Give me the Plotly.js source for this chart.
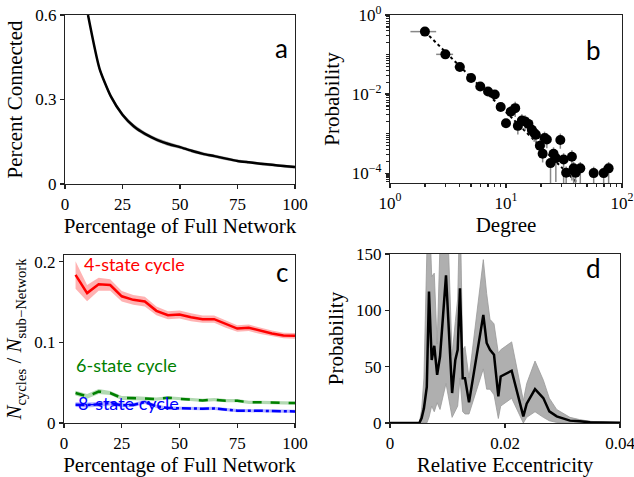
<!DOCTYPE html>
<html><head><meta charset="utf-8">
<script src="https://cdn.plot.ly/plotly-3.0.1.min.js"></script>
<style>body{margin:0;padding:0;background:#fff}#chart{width:634px;height:477px}</style>
</head><body><div id="chart"></div>
<script>
// Panel a
const pctA = [10, 15, 20, 25, 30, 35, 40, 45, 50, 55, 60, 65, 70, 75, 80, 85, 90, 95, 100];
const connA = [0.60, 0.41, 0.31, 0.246, 0.204, 0.177, 0.157, 0.142, 0.131, 0.118, 0.107, 0.099, 0.090, 0.082, 0.077, 0.072, 0.068, 0.064, 0.060];
const connErrA = [0.009, 0.009, 0.008, 0.008, 0.008, 0.007, 0.007, 0.007, 0.006, 0.006, 0.006, 0.006, 0.006, 0.005, 0.005, 0.005, 0.005, 0.005, 0.005];

// Panel b
const degX = [2, 3, 4, 5, 6, 7, 8, 9, 10, 11, 12, 12.65, 13.7, 14.6, 15.6, 16.7, 17.5, 18.1, 19.6, 21.5, 22.5, 20.7, 29.4, 25.7, 24.2, 26.9, 31.4, 37, 33, 38.3, 39.8, 43.7, 57, 69.5, 76.7];
const degY = [0.38, 0.101, 0.0486, 0.0256, 0.0155, 0.0116, 0.0097, 0.0047, 0.00183, 0.0036, 0.0044, 0.00157, 0.00214, 0.00202, 0.00176, 0.00125, 0.00103, 0.00093, 0.00049, 0.00077, 0.00071, 0.00031, 0.00069, 0.00031, 0.000179, 0.00024, 0.00022, 0.00026, 0.000102, 0.000132, 0.000102, 0.000132, 0.0001, 0.0001, 0.000132];
const degXerr = [0.5, 0.5, 0.4, 0.2, 0, 0, 0, 0, 0, 0, 0, 0, 0, 0, 0, 0, 0, 0, 0, 0, 0, 0, 0, 0, 0, 0, 0, 0, 0, 0, 0, 0, 0, 0, 0];
const fitX = [2, 41.3];
const fitY = [0.38, 0.000056];
const xMinorTicks = [2, 3, 4, 5, 6, 7, 8, 9, 20, 30, 40, 50, 60, 70, 80, 90];
const yMinorTicks = [2e-5, 3e-5, 4e-5, 5e-5, 6e-5, 7e-5, 8e-5, 9e-5, 2e-4, 3e-4, 4e-4, 5e-4, 6e-4, 7e-4, 8e-4, 9e-4, 1e-3, 2e-3, 3e-3, 4e-3, 5e-3, 6e-3, 7e-3, 8e-3, 9e-3, 2e-2, 3e-2, 4e-2, 5e-2, 6e-2, 7e-2, 8e-2, 9e-2, 0.1, 0.2, 0.3, 0.4, 0.5, 0.6, 0.7, 0.8, 0.9];

// Panel c
const pctC = [5, 10, 15, 20, 25, 30, 35, 40, 45, 50, 55, 60, 65, 70, 75, 80, 85, 90, 95, 100];
const cyc4 = [0.1835, 0.161, 0.172, 0.171, 0.157, 0.1526, 0.1505, 0.139, 0.1336, 0.1344, 0.131, 0.1287, 0.1287, 0.1225, 0.117, 0.118, 0.1142, 0.111, 0.1085, 0.108];
const cyc4Err = [0.017, 0.010, 0.008, 0.007, 0.0065, 0.006, 0.006, 0.0055, 0.005, 0.005, 0.005, 0.0045, 0.0045, 0.0045, 0.004, 0.004, 0.004, 0.0035, 0.0035, 0.0035];
const cyc6 = [0.0371, 0.033, 0.039, 0.0371, 0.031, 0.031, 0.0305, 0.0297, 0.0313, 0.030, 0.029, 0.028, 0.0289, 0.0276, 0.0276, 0.0256, 0.0256, 0.0256, 0.0252, 0.0247];
const cyc6Err = [0.003, 0.003, 0.003, 0.0025, 0.0025, 0.0025, 0.002, 0.002, 0.002, 0.002, 0.002, 0.002, 0.002, 0.002, 0.002, 0.002, 0.002, 0.002, 0.002, 0.002];
const cyc8 = [0.0227, 0.0223, 0.0231, 0.0247, 0.0219, 0.0223, 0.026, 0.0206, 0.0186, 0.018, 0.018, 0.0177, 0.018, 0.0165, 0.0153, 0.0153, 0.0153, 0.0153, 0.0144, 0.0144];
const cyc8Err = [0.003, 0.003, 0.003, 0.003, 0.0025, 0.0025, 0.0025, 0.002, 0.002, 0.002, 0.002, 0.002, 0.002, 0.002, 0.002, 0.002, 0.002, 0.002, 0.002, 0.002];

// Panel d
const eccX = [0, 0.003, 0.0051, 0.0055, 0.0059, 0.0064, 0.00678, 0.00725, 0.0077, 0.0082, 0.0087, 0.00974, 0.0108, 0.01136, 0.01177, 0.01217, 0.01264, 0.01304, 0.01374, 0.01623, 0.01681, 0.01739, 0.01809, 0.01884, 0.01925, 0.02116, 0.02319, 0.02377, 0.02522, 0.02667, 0.02771, 0.02899, 0.0313, 0.033, 0.0348, 0.037, 0.04];
const eccY = [0, 0, 0, 4.4, 13, 32, 116.6, 56, 68.5, 42.8, 59, 131, 26.6, 56, 65, 119.6, 39.8, 39.8, 18.3, 96, 71, 65, 60.5, 23.6, 41.3, 46.4, 5.9, 17.1, 30.1, 22.1, 10.3, 5.9, 2.1, 1.5, 0.6, 0.4, 0.3];
const eccHi = [0, 0, 0, 12, 40, 150, 200, 130, 133, 70, 160, 220, 60, 90, 110, 200, 65, 68, 40, 145, 115, 92, 88, 62, 65, 72, 20, 35, 55, 38, 22, 12, 5, 3, 1.5, 0.8, 0.5];
const eccLo = [0, 0, 0, 0, 0, 0, 5, 15, 10, 18, 12, 35, 5, 10, 15, 40, 10, 8, 8, 48, 30, 30, 25, 4, 15, 22, 0, 5, 10, 5, 2, 0.5, 0, 0, 0, 0, 0];

const W = 634, H = 477;
const px = (a, b) => [a / W, b / W];
const py = (top, bottom) => [1 - bottom / H, 1 - top / H];

const traces = [];
// a
traces.push({x: pctA, y: connA.map((v, i) => v - connErrA[i]), xaxis: 'x', yaxis: 'y', mode: 'lines', line: {width: 0, color: 'rgba(0,0,0,0)', shape: 'spline', smoothing: 0.6}, showlegend: false, hoverinfo: 'skip'});
traces.push({x: pctA, y: connA.map((v, i) => v + connErrA[i]), xaxis: 'x', yaxis: 'y', mode: 'lines', fill: 'tonexty', fillcolor: 'rgba(150,150,150,0.75)', line: {width: 0, color: 'rgba(0,0,0,0)', shape: 'spline', smoothing: 0.6}, showlegend: false, hoverinfo: 'skip'});
traces.push({x: pctA, y: connA, xaxis: 'x', yaxis: 'y', mode: 'lines', line: {color: 'black', width: 2.5, shape: 'spline', smoothing: 0.6}, showlegend: false});
// b
traces.push({x: fitX, y: fitY, xaxis: 'x2', yaxis: 'y2', mode: 'lines', line: {color: 'black', width: 2, dash: 'dot'}, showlegend: false});
traces.push({x: degX, y: degY, xaxis: 'x2', yaxis: 'y2', mode: 'markers', marker: {color: 'black', size: 10},
  error_x: {type: 'data', array: degXerr, color: '#888', thickness: 1.5, width: 0},
  error_y: {type: 'data', symmetric: false,
    array: degY.map((v, i) => degX[i] < 12 ? 0 : v * 0.45),
    arrayminus: degY.map((v, i) => degX[i] < 12 ? 0 : (v < 0.0003 ? v * 0.75 : v * 0.4)),
    color: '#888', thickness: 1.5, width: 0}, showlegend: false});
// c
function band(xs, ys, es, ax, ay, fc) {
  traces.push({x: xs, y: ys.map((v, i) => v - es[i]), xaxis: ax, yaxis: ay, mode: 'lines', line: {width: 0, color: 'rgba(0,0,0,0)'}, showlegend: false, hoverinfo: 'skip'});
  traces.push({x: xs, y: ys.map((v, i) => v + es[i]), xaxis: ax, yaxis: ay, mode: 'lines', fill: 'tonexty', fillcolor: fc, line: {width: 0, color: 'rgba(0,0,0,0)'}, showlegend: false, hoverinfo: 'skip'});
}
band(pctC, cyc4, cyc4Err, 'x3', 'y3', 'rgba(255,0,0,0.3)');
band(pctC, cyc6, cyc6Err, 'x3', 'y3', 'rgba(0,128,0,0.3)');
band(pctC, cyc8, cyc8Err, 'x3', 'y3', 'rgba(0,0,255,0.3)');
traces.push({x: pctC, y: cyc4, xaxis: 'x3', yaxis: 'y3', mode: 'lines', line: {color: 'red', width: 2.5}, showlegend: false});
traces.push({x: pctC, y: cyc6, xaxis: 'x3', yaxis: 'y3', mode: 'lines', line: {color: 'green', width: 2.5, dash: 'dash'}, showlegend: false});
traces.push({x: pctC, y: cyc8, xaxis: 'x3', yaxis: 'y3', mode: 'lines', line: {color: 'blue', width: 2.5, dash: 'dashdot'}, showlegend: false});
// d
traces.push({x: eccX, y: eccLo, xaxis: 'x4', yaxis: 'y4', mode: 'lines', line: {width: 0.8, color: '#999'}, showlegend: false, hoverinfo: 'skip'});
traces.push({x: eccX, y: eccHi, xaxis: 'x4', yaxis: 'y4', mode: 'lines', fill: 'tonexty', fillcolor: 'rgb(175,175,175)', line: {width: 0.8, color: '#999'}, showlegend: false, hoverinfo: 'skip'});
traces.push({x: eccX, y: eccY, xaxis: 'x4', yaxis: 'y4', mode: 'lines', line: {color: 'black', width: 2.5}, showlegend: false});

function ax(domain, anchor, extra) {
  return Object.assign({domain: domain, anchor: anchor, showline: true, mirror: true, linecolor: '#222', linewidth: 1.2,
    ticks: 'outside', ticklen: 4, tickwidth: 1.2, tickcolor: '#222', showgrid: false, zeroline: false,
    ticklabeloverflow: 'allow', tickfont: {size: 17, color: 'black'}}, extra);
}
const tfont = {size: 21, color: 'black'};
const layout = {
  width: W, height: H, margin: {l: 0, r: 0, t: 0, b: 0}, paper_bgcolor: 'white', plot_bgcolor: 'white',
  font: {family: 'Liberation Serif', size: 17, color: 'black'}, showlegend: false,
  xaxis: ax(px(65, 295), 'y', {range: [0, 100], tickvals: [0, 25, 50, 75, 100], title: {text: 'Percentage of Full Network', font: tfont, standoff: 5}}),
  yaxis: ax(py(15, 184), 'x', {range: [0, 0.6], tickvals: [0, 0.3, 0.6], ticktext: ['0', '0.3', '0.6'], title: {text: 'Percent Connected', font: tfont, standoff: 6}}),
  xaxis2: ax(px(390, 622), 'y2', {type: 'log', range: [0, 2], tickvals: [1, 10, 100], ticktext: ['10<sup>0</sup>', '10<sup>1</sup>', '10<sup>2</sup>'],
    minor: {tickmode: 'array', tickvals: xMinorTicks, ticks: 'outside', ticklen: 2.5, tickcolor: '#222', showgrid: false}, title: {text: 'Degree', font: tfont, standoff: 5}}),
  yaxis2: ax(py(15, 183), 'x2', {type: 'log', range: [-4.25, 0], tickvals: [1, 0.01, 0.0001], ticktext: ['10<sup>0</sup>', '10<sup>\u22122</sup>', '10<sup>\u22124</sup>'],
    minor: {tickmode: 'array', tickvals: yMinorTicks, ticks: 'outside', ticklen: 2.5, tickcolor: '#222', showgrid: false}, title: {text: 'Probability', font: tfont, standoff: 6}}),
  xaxis3: ax(px(64, 295), 'y3', {range: [0, 100], tickvals: [0, 25, 50, 75, 100], title: {text: 'Percentage of Full Network', font: tfont, standoff: 5}}),
  yaxis3: ax(py(255, 423), 'x3', {range: [0, 0.2082], tickvals: [0, 0.1, 0.2], ticktext: ['0', '0.1', '0.2'],
    title: {text: '<i>N</i><sub>cycles</sub> / <i>N</i><sub>sub\u2212Network</sub>', font: tfont, standoff: 6}}),
  xaxis4: ax(px(390, 620), 'y4', {range: [0, 0.04], tickvals: [0, 0.02, 0.04], ticktext: ['0', '0.02', '0.04'], title: {text: 'Relative Eccentricity', font: tfont, standoff: 5}}),
  yaxis4: ax(py(254, 423), 'x4', {range: [0, 150], tickvals: [0, 50, 100, 150], title: {text: 'Probability', font: tfont, standoff: 6}}),
  annotations: [
    {text: 'a', x: 281 / W, y: 1 - 30 / H, xref: 'paper', yref: 'paper', showarrow: false, font: {family: 'Lato', size: 26, color: 'black'}},
    {text: 'b', x: 603 / W, y: 1 - 32 / H, xref: 'paper', yref: 'paper', showarrow: false, font: {family: 'Lato', size: 26, color: 'black'}},
    {text: 'c', x: 282 / W, y: 1 - 272 / H, xref: 'paper', yref: 'paper', showarrow: false, font: {family: 'Lato', size: 26, color: 'black'}},
    {text: 'd', x: 603 / W, y: 1 - 268 / H, xref: 'paper', yref: 'paper', showarrow: false, font: {family: 'Lato', size: 26, color: 'black'}},
    {text: '4-state cycle', x: 82 / W, y: 1 - 264 / H, xref: 'paper', yref: 'paper', xanchor: 'left', showarrow: false, font: {family: 'Lato', size: 18, color: 'red'}},
    {text: '6-state cycle', x: 74 / W, y: 1 - 378 / H, xref: 'paper', yref: 'paper', xanchor: 'left', showarrow: false, font: {family: 'Lato', size: 18, color: 'green'}},
    {text: '8-state cycle', x: 76 / W, y: 1 - 416 / H, xref: 'paper', yref: 'paper', xanchor: 'left', showarrow: false, font: {family: 'Lato', size: 18, color: 'blue'}}
  ]
};
Plotly.newPlot('chart', traces, layout, {staticPlot: true, displayModeBar: false});
</script></body></html>
